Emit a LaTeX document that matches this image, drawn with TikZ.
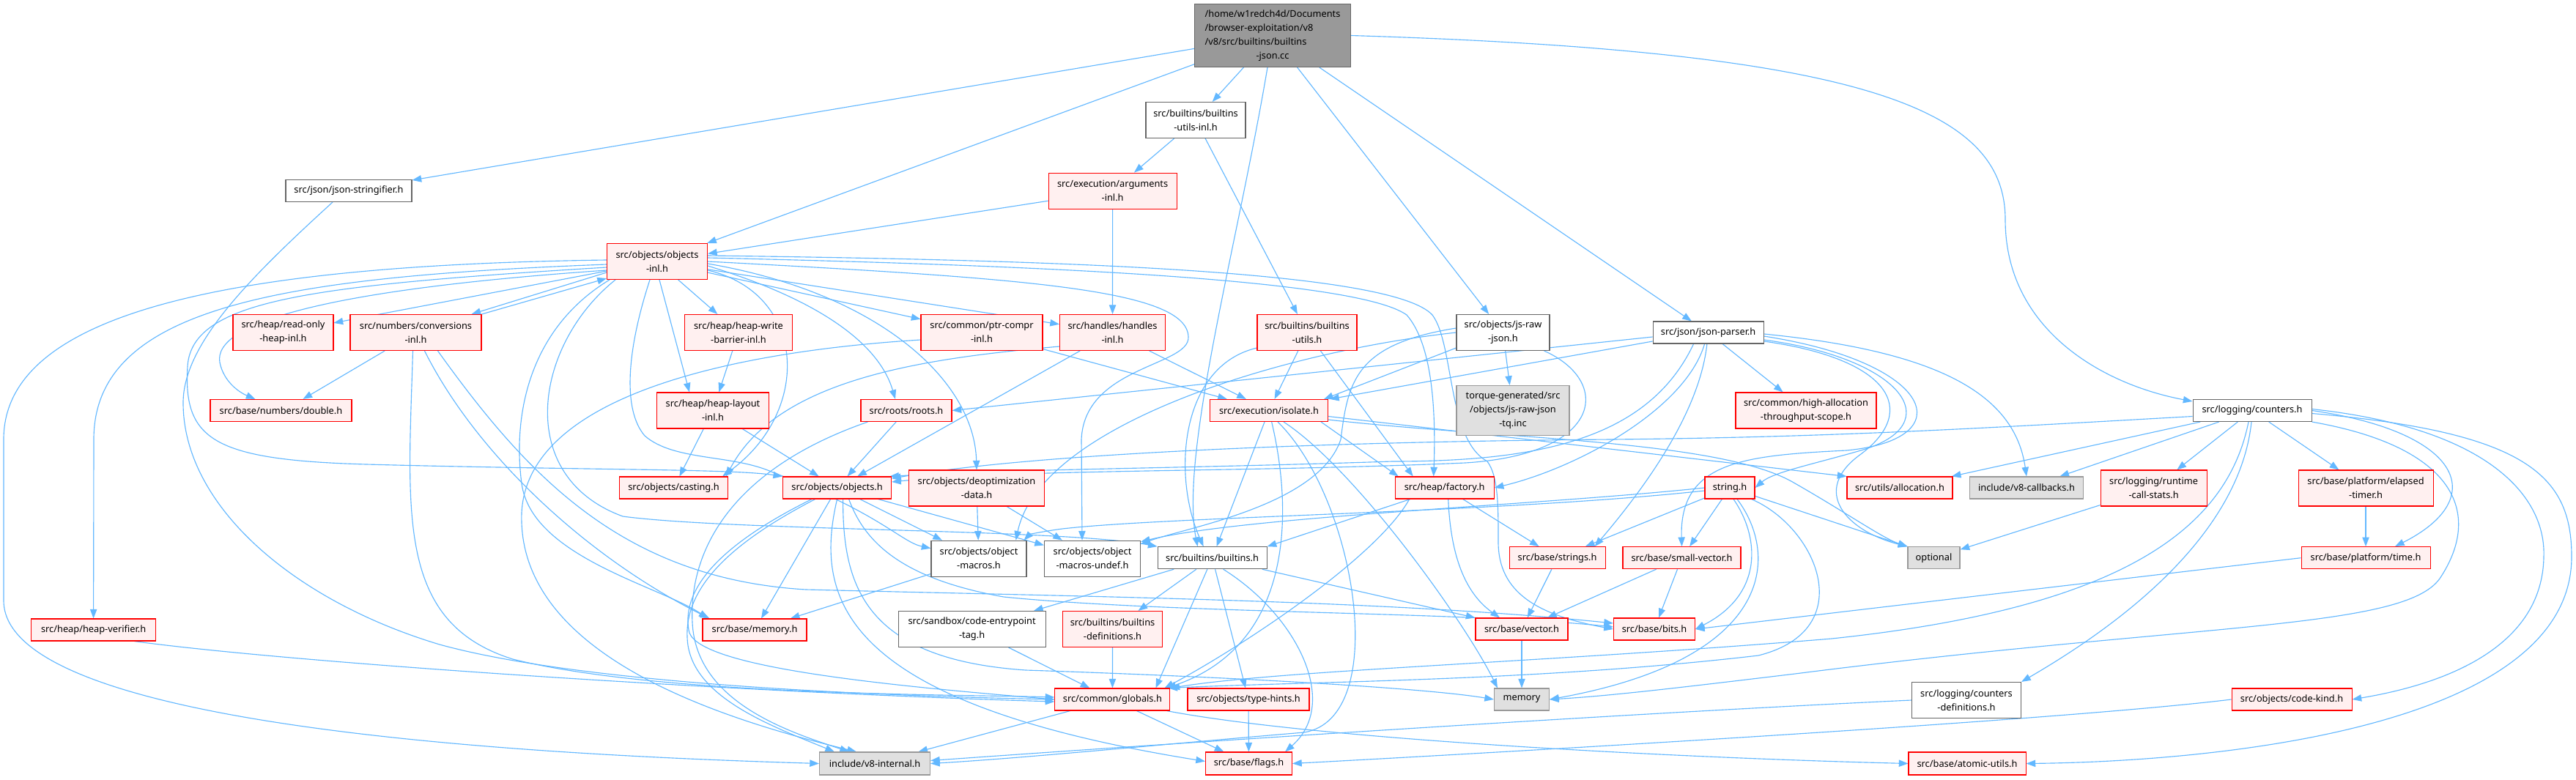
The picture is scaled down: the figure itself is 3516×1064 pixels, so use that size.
\documentclass[tikz,border=0pt]{standalone}
\usepackage{fontspec}
\setmainfont{Noto Sans}
\usetikzlibrary{arrows.meta,calc}
\pgfdeclarelayer{back}
\pgfdeclarelayer{bg}
\pgfsetlayers{back,bg,main}
\definecolor{edgec}{HTML}{63B8FF}
\definecolor{redfill}{HTML}{FFF0F0}
\definecolor{redline}{HTML}{FF0000}
\definecolor{grayfill}{HTML}{E0E0E0}
\definecolor{grayline}{HTML}{999999}
\definecolor{darkline}{HTML}{666666}
\definecolor{rootfill}{HTML}{999999}
\tikzset{
  bx/.style={rectangle, inner sep=0pt, align=center, line width=0.8pt, font=\fontsize{9.6}{14.25}\selectfont},
  rbox/.style={bx, draw=redline, fill=redfill},
  wbox/.style={bx, draw=darkline, fill=white},
  gbox/.style={bx, draw=grayline, fill=grayfill},
  rootbox/.style={bx, draw=darkline, fill=rootfill},
  e/.style={draw=edgec, line width=0.85pt, -{Triangle[length=9.5pt,width=7pt]}},
}
\newcommand\mynode[6]{\node[#1, minimum width={#4*0.75pt}, minimum height={#5*0.75pt}] (#2) at (#3) {#6};}
\begin{document}
\begin{tikzpicture}[x=0.75pt,y=-0.75pt]
\begin{pgfonlayer}{back}
\fill[white] (0,0) rectangle (3516,1064);
\end{pgfonlayer}
\useasboundingbox (0,0) rectangle (3516,1064);
% ---------------- nodes ----------------
\node[rootbox, minimum width={213*0.75pt}, minimum height={86*0.75pt}] (R) at (1737,48.5)
 {\begin{tabular}{@{}l@{}}/home/w1redch4d/Documents\\/browser-exploitation/v8\\/v8/src/builtins/builtins\\\multicolumn{1}{@{}c@{}}{-json.cc}\end{tabular}};
\mynode{wbox}{JS}{476,260.5}{172}{30}{src/json/json-stringifier.h}
\mynode{rbox}{OI}{897,357}{137}{49}{src/objects/objects\\-inl.h}
\mynode{wbox}{BUI}{1632,164}{136}{49}{src/builtins/builtins\\-utils-inl.h}
\mynode{rbox}{AI}{1518.6,260.6}{175}{49}{src/execution/arguments\\-inl.h}
\mynode{rbox}{ROH}{386.5,454}{137}{49}{src/heap/read-only\\-heap-inl.h}
\mynode{rbox}{NC}{567.5,454}{179}{49}{src/numbers/conversions\\-inl.h}
\mynode{rbox}{HWB}{1008,454}{147}{49}{src/heap/heap-write\\-barrier-inl.h}
\mynode{rbox}{PC}{1340,454}{166}{49}{src/common/ptr-compr\\-inl.h}
\mynode{rbox}{HI}{1518.5,454}{144}{49}{src/handles/handles\\-inl.h}
\mynode{rbox}{BU}{1784,454}{136}{49}{src/builtins/builtins\\-utils.h}
\mynode{wbox}{JRJ}{2051.5,454}{127}{49}{src/objects/js-raw\\-json.h}
\mynode{wbox}{JP}{2331.6,454}{151}{30}{src/json/json-parser.h}
\mynode{rbox}{DBL}{383.5,560.5}{193}{30}{src/base/numbers/double.h}
\mynode{rbox}{HL}{973,560.5}{153}{49}{src/heap/heap-layout\\-inl.h}
\mynode{rbox}{RR}{1237,560.5}{124}{30}{src/roots/roots.h}
\mynode{rbox}{ISO}{1732,560.5}{161}{30}{src/execution/isolate.h}
\mynode{gbox}{TQ}{2065,560.5}{154}{68}{torque-generated/src\\/objects/js-raw-json\\-tq.inc}
\mynode{rbox}{HAT}{2465,560.5}{192}{49}{src/common/high-allocation\\-throughput-scope.h}
\mynode{wbox}{CNT}{3074,560.5}{162}{30}{src/logging/counters.h}
\mynode{rbox}{CAS}{919.5,666}{148}{30}{src/objects/casting.h}
\mynode{rbox}{OBJ}{1142.6,666}{148}{30}{src/objects/objects.h}
\mynode{rbox}{DD}{1333,666.5}{185}{49}{src/objects/deoptimization\\-data.h}
\mynode{rbox}{FAC}{1971.7,666}{135}{30}{src/heap/factory.h}
\mynode{rbox}{STR}{2361,666}{68}{30}{string.h}
\mynode{rbox}{ALLOC}{2593,666}{144}{30}{src/utils/allocation.h}
\mynode{gbox}{CB}{2766,666}{155}{30}{include/v8-callbacks.h}
\mynode{rbox}{RCS}{2939.6,666.5}{145}{49}{src/logging/runtime\\-call-stats.h}
\mynode{rbox}{ET}{3229,666.5}{184}{49}{src/base/platform/elapsed\\-timer.h}
\mynode{wbox}{OM}{1336,762.7}{130}{49}{src/objects/object\\-macros.h}
\mynode{wbox}{OMU}{1491,762.7}{131}{49}{src/objects/object\\-macros-undef.h}
\mynode{wbox}{BH}{1654.6,761.7}{149}{30}{src/builtins/builtins.h}
\mynode{rbox}{STRS}{2125.6,761.7}{131}{30}{src/base/strings.h}
\mynode{rbox}{SV}{2295.5,761.7}{161}{30}{src/base/small-vector.h}
\mynode{gbox}{OPT}{2639.5,761.7}{71}{30}{optional}
\mynode{rbox}{PT}{3229,761.7}{176}{30}{src/base/platform/time.h}
\mynode{rbox}{HV}{127.6,860}{170}{30}{src/heap/heap-verifier.h}
\mynode{rbox}{MEMH}{1030,860}{142}{30}{src/base/memory.h}
\mynode{wbox}{CET}{1326.6,859}{201}{49}{src/sandbox/code-entrypoint\\-tag.h}
\mynode{rbox}{BD}{1518.5,859}{136}{49}{src/builtins/builtins\\-definitions.h}
\mynode{rbox}{VEC}{2077,859}{126}{30}{src/base/vector.h}
\mynode{rbox}{BITS}{2258,859}{111}{30}{src/base/bits.h}
\mynode{rbox}{GLB}{1518.4,955}{157}{30}{src/common/globals.h}
\mynode{rbox}{TH}{1704,955}{166}{30}{src/objects/type-hints.h}
\mynode{gbox}{MEM}{2077,955}{75}{30}{memory}
\mynode{wbox}{CD}{2684,956}{149}{49}{src/logging/counters\\-definitions.h}
\mynode{rbox}{CK}{3128,955}{164}{30}{src/objects/code-kind.h}
\mynode{gbox}{V8I}{1194,1042.5}{151}{31}{include/v8-internal.h}
\mynode{rbox}{FLG}{1704.5,1042.5}{118}{31}{src/base/flags.h}
\mynode{rbox}{AU}{2685,1042.5}{160}{31}{src/base/atomic-utils.h}
% ---------------- edges ----------------
\begin{pgfonlayer}{bg}
% root
\draw[e] (R) -- (JS);
\draw[e] (R) -- (OI);
\draw[e] (R) -- (BUI);
\draw[e] ($(R.south)+(-7,0)$) .. controls (1690,330) and (1610,620) .. ($(BH.north)+(-20,0)$);
\draw[e] (R) -- (JRJ);
\draw[e] (R) -- (JP);
\draw[e] (R.east) .. controls (2550,70) and (2737,150) .. (2737,300) .. controls (2737,450) and (2870,525) .. ($(CNT.north west)+(0,3)$);
% json-stringifier
\draw[e] ($(JS.south)+(-22,0)$) .. controls (340,380) and (250,470) .. (250,550) .. controls (250,690) and (400,820) .. (600,880) .. controls (800,935) and (1200,950) .. (GLB.west);
% builtins-utils-inl, arguments-inl
\draw[e] (BUI) -- (AI);
\draw[e] (BUI) -- (BU);
\draw[e] (AI) -- (OI);
\draw[e] (AI) -- (HI);
% objects-inl
\draw[e] (OI) -- (ROH);
\draw[e] ($(OI.south west)+(0,-10)$) -- ($(NC.north east)+(-14,0)$);
\draw[e] (NC.north east) -- ($(OI.south west)+(0,-2)$);
\draw[e] ($(OI.west)+(0,12)$) .. controls (450,395) and (290,440) .. (300,495) .. controls (305,520) and (325,535) .. ($(DBL.north)+(-35,0)$);
\draw[e] ($(OI.west)+(0,4)$) .. controls (380,378) and (128,420) .. (128,600) -- (HV.north);
\draw[e] ($(OI.west)+(0,-2)$) .. controls (300,362) and (5,430) .. (5,600) -- (5,820) .. controls (5,990) and (700,1030) .. (V8I.west);
\draw[e] ($(OI.west)+(0,8)$) .. controls (420,390) and (262,410) .. (256,500) .. controls (250,600) and (290,628) .. (500,634) .. controls (800,642) and (1000,640) .. (OBJ.north west);
\draw[e] (OI) -- (HWB);
\draw[e] ($(OI.south)+(3,0)$) -- ($(HL.north west)+(45,0)$);
\draw[e] ($(OI.east)+(0,12)$) .. controls (1100,400) and (1110,560) .. ($(CAS.north east)+(-8,0)$);
\draw[e] ($(OI.south)+(-10,0)$) .. controls (855,480) and (850,560) .. (880,595) .. controls (920,630) and (1000,620) .. (1055,645) .. controls (1200,700) and (1230,740) .. ($(OM.west)+(0,-14)$);
\draw[e] ($(OI.south west)+(4,0)$) .. controls (720,450) and (700,570) .. (712,660) .. controls (725,760) and (900,800) .. ($(MEMH.north west)+(8,0)$);
\draw[e] (OI) -- (PC);
\draw[e] (OI) -- (HI);
\draw[e] ($(OI.east)+(0,6)$) .. controls (1120,410) and (1200,470) .. ($(RR.north)+(-15,0)$);
\draw[e] ($(OI.east)+(0,3)$) .. controls (1200,400) and (1330,520) .. (DD.north);
\draw[e] (OI.east) .. controls (1400,380) and (1620,395) .. (1622,460) .. controls (1624,500) and (1480,500) .. (1476,600) -- ($(OMU.north)+(-14,0)$);
\draw[e] ($(OI.east)+(0,-5)$) .. controls (1400,362) and (1850,380) .. (1920,430) .. controls (1955,470) and (1960,560) .. ($(FAC.north)+(-15,0)$);
\draw[e] ($(OI.east)+(0,-8)$) .. controls (1450,355) and (1900,370) .. (1955,430) .. controls (1985,470) and (1975,600) .. (2030,630) .. controls (2045,650) and (2045,690) .. (2045,740) .. controls (2045,810) and (2100,840) .. (BITS.west);
\draw[e] ($(OI.south west)+(12,0)$) .. controls (730,470) and (700,650) .. (850,705) .. controls (1000,725) and (1450,722) .. (BH.north west);
% conversions-inl
\draw[e] (NC) -- ($(DBL.north)+(30,0)$);
\draw[e] ($(NC.south)+(-4,0)$) .. controls (557,700) and (540,850) .. (700,900) .. controls (900,950) and (1300,948) .. ($(GLB.west)+(0,-3)$);
\draw[e] ($(NC.south)+(12,0)$) .. controls (650,620) and (800,760) .. ($(MEMH.north west)+(10,0)$);
\draw[e] ($(NC.south)+(30,0)$) .. controls (720,650) and (850,790) .. (1100,805) .. controls (1500,815) and (1900,820) .. ($(BITS.west)+(0,-8)$);
% heap
\draw[e] (HWB) -- (HL);
\draw[e] (HL) -- (CAS);
\draw[e] (HL) -- (OBJ);
% ptr-compr, handles
\draw[e] (PC) -- (ISO);
\draw[e] ($(PC.west)+(0,10)$) .. controls (1000,480) and (720,540) .. (712,700) .. controls (705,900) and (1000,985) .. ($(V8I.north)+(-25,0)$);
\draw[e] (HI) -- (ISO);
\draw[e] (HI) -- (OBJ);
\draw[e] ($(HI.south west)+(0,-6)$) .. controls (1250,490) and (1060,520) .. ($(CAS.north east)+(-3,0)$);
% builtins-utils
\draw[e] (BU) -- (ISO);
\draw[e] ($(BU.south west)+(0,-4)$) .. controls (1610,500) and (1600,650) .. ($(BH.north)+(-12,0)$);
\draw[e] (BU) -- ($(FAC.north west)+(25,0)$);
% js-raw-json
\draw[e] (JRJ) -- (TQ);
\draw[e] ($(JRJ.south west)+(0,-4)$) -- ($(ISO.north east)+(-6,0)$);
\draw[e] (JRJ.west) .. controls (1750,480) and (1420,580) .. ($(OM.north east)+(-15,0)$);
\draw[e] ($(JRJ.west)+(0,-6)$) .. controls (1850,470) and (1840,520) .. (1830,600) .. controls (1800,690) and (1620,720) .. ($(OMU.north east)+(0,5)$);
\draw[e] ($(JRJ.south east)+(-8,0)$) .. controls (2200,520) and (2190,620) .. (2000,632) .. controls (1700,645) and (1400,640) .. ($(OBJ.east)+(0,-8)$);
% json-parser
\draw[e] ($(JP.west)+(0,6)$) -- (RR.east);
\draw[e] ($(JP.west)+(0,12)$) -- ($(ISO.north east)+(2,0)$);
\draw[e] ($(JP.south)+(-5,0)$) .. controls (2300,560) and (2150,640) .. (FAC.east);
\draw[e] ($(JP.south)+(-20,0)$) .. controls (2250,600) and (2100,630) .. (1900,630) .. controls (1600,640) and (1400,640) .. ($(OBJ.north east)+(-3,0)$);
\draw[e] (JP) .. controls (2320,560) and (2250,660) .. ($(STRS.north east)+(-15,0)$);
\draw[e] (JP) -- (HAT);
\draw[e] ($(JP.east)+(0,10)$) .. controls (2600,490) and (2660,580) .. (2540,615) .. controls (2470,635) and (2420,645) .. (STR.east);
\draw[e] ($(JP.east)+(0,5)$) .. controls (2640,495) and (2680,600) .. (2520,615) .. controls (2380,622) and (2292,630) .. (SV.north);
\draw[e] ($(JP.east)+(0,12)$) .. controls (2580,490) and (2620,560) .. (2540,620) .. controls (2470,670) and (2520,725) .. (OPT.north west);
\draw[e] ($(JP.east)+(0,2)$) .. controls (2650,480) and (2750,540) .. (CB.north);
% roots
\draw[e] (RR) -- (OBJ);
\draw[e] ($(RR.south west)+(10,0)$) .. controls (1000,640) and (940,750) .. (945,850) .. controls (950,960) and (1080,1000) .. ($(V8I.north)+(-35,0)$);
% isolate
\draw[e] (ISO) -- (BH);
\draw[e] (ISO) .. controls (1765,700) and (1765,880) .. ($(GLB.north east)+(-5,0)$);
\draw[e] ($(ISO.south)+(12,0)$) .. controls (1850,680) and (1900,980) .. (1780,1000) .. controls (1600,1015) and (1400,1035) .. (V8I.east);
\draw[e] ($(ISO.south)+(20,0)$) .. controls (1850,640) and (2000,850) .. ($(MEM.north west)+(5,0)$);
\draw[e] ($(ISO.south east)+(-10,0)$) -- ($(FAC.north west)+(5,0)$);
\draw[e] ($(ISO.east)+(0,8)$) -- (ALLOC.north west);
\draw[e] ($(ISO.south east)+(0,-3)$) .. controls (2050,600) and (2350,600) .. (2450,660) .. controls (2520,700) and (2570,735) .. (OPT.north west);
% deoptimization-data
\draw[e] (DD) -- (OM);
\draw[e] (DD) -- (OMU);
% objects.h
\draw[e] (OBJ) -- (OM);
\draw[e] (OBJ) -- (OMU);
\draw[e] (OBJ) -- (MEMH);
\draw[e] ($(OBJ.south)+(-30,0)$) .. controls (1000,740) and (935,800) .. (938,870) .. controls (940,950) and (1050,990) .. ($(V8I.north)+(-55,0)$);
\draw[e] (OBJ.south) .. controls (1110,820) and (1150,960) .. ($(FLG.west)+(0,-3)$);
\draw[e] ($(OBJ.south west)+(40,0)$) .. controls (990,740) and (930,800) .. (940,860) .. controls (945,910) and (1200,935) .. (GLB.west);
\draw[e] ($(OBJ.south)+(8,0)$) .. controls (1150,800) and (1180,900) .. (1400,915) .. controls (1700,925) and (1950,940) .. (MEM.west);
\draw[e] ($(OBJ.south)+(16,0)$) .. controls (1180,740) and (1230,790) .. (1370,815) .. controls (1600,838) and (2000,835) .. ($(BITS.west)+(0,-3)$);
% counters
\draw[e] (CNT) -- (ALLOC);
\draw[e] (CNT) -- (CB);
\draw[e] (CNT) -- (RCS);
\draw[e] (CNT) -- (ET);
\draw[e] (CNT.east) .. controls (3360,590) and (3400,680) .. ($(PT.north)+(40,0)$);
\draw[e] ($(CNT.south)+(-1,0)$) .. controls (3060,700) and (2950,820) .. (CD.north east);
\draw[e] ($(CNT.south)+(-5,0)$) .. controls (3040,720) and (2900,830) .. (2500,872) .. controls (2100,905) and (1750,915) .. (GLB.north east);
\draw[e] (CNT.south east) .. controls (3350,610) and (3390,700) .. (3330,790) .. controls (3280,860) and (3000,850) .. (2450,920) .. controls (2300,938) and (2200,950) .. (MEM.east);
\draw[e] ($(CNT.east)+(0,4)$) .. controls (3450,590) and (3510,650) .. (3510,760) .. controls (3510,1000) and (3000,1040) .. (AU.east);
\draw[e] ($(CNT.east)+(0,-2)$) .. controls (3400,585) and (3475,680) .. (3472,760) .. controls (3470,900) and (3300,940) .. (CK.east);
\draw[e] ($(CNT.west)+(0,8)$) .. controls (2700,585) and (2500,597) .. (2200,600) .. controls (1800,603) and (1400,620) .. ($(OBJ.north east)+(0,3)$);
% lower right
\draw[e] (CD.west) .. controls (2200,975) and (1600,1015) .. ($(V8I.east)+(0,-4)$);
\draw[e] (CK.west) .. controls (2800,985) and (2000,1030) .. (FLG.east);
\draw[e] ($(GLB.south east)+(-5,0)$) .. controls (1800,1010) and (2300,1035) .. (AU.west);
\draw[e] (GLB) -- (V8I);
\draw[e] (GLB) -- (FLG);
\draw[e] (TH) -- (FLG);
% builtins.h
\draw[e] (BH) -- (CET);
\draw[e] (BH) -- (BD);
\draw[e] (BH) -- ($(GLB.north east)+(-20,0)$);
\draw[e] (BH) -- (TH);
\draw[e] ($(BH.south)+(15,0)$) .. controls (1770,840) and (1830,960) .. ($(FLG.north east)+(-10,0)$);
\draw[e] (BH) -- (VEC.north west);
\draw[e] (CET) -- (GLB);
\draw[e] (BD) -- (GLB);
\draw[e] (OM) -- (MEMH);
% factory
\draw[e] (FAC) -- (BH.north east);
\draw[e] (FAC) -- (STRS);
\draw[e] ($(FAC.south)+(5,0)$) .. controls (1980,760) and (2000,810) .. ($(VEC.north)+(-30,0)$);
\draw[e] ($(FAC.south west)+(20,0)$) .. controls (1880,760) and (1700,880) .. ($(GLB.north east)+(-8,0)$);
% string.h
\draw[e] (STR) -- (STRS);
\draw[e] (STR) -- (SV);
\draw[e] ($(STR.south)+(5,0)$) .. controls (2400,730) and (2410,810) .. (BITS.east);
\draw[e] ($(STR.south)+(10,0)$) .. controls (2430,760) and (2420,900) .. (MEM.east);
\draw[e] (STR) -- (OPT.north west);
\draw[e] ($(STR.south east)+(-5,0)$) .. controls (2480,720) and (2540,860) .. (2400,895) .. controls (2100,930) and (1800,930) .. ($(GLB.north east)+(-3,0)$);
\draw[e] (STR.west) .. controls (2100,690) and (1700,705) .. ($(OMU.north east)+(0,2)$);
\draw[e] ($(STR.west)+(0,4)$) .. controls (2050,700) and (1600,705) .. (1450,722) .. controls (1420,726) and (1405,730) .. ($(OM.north east)+(-4,0)$);
% misc
\draw[e] (RCS) -- (OPT);
\draw[e] (ET) -- (PT);
\draw[e] (PT.west) -- (BITS.east);
\draw[e] (STRS) -- (VEC);
\draw[e] (SV) -- (VEC);
\draw[e] (SV) -- (BITS);
\draw[e] (VEC) -- (MEM);
\draw[e] ($(HV.south east)+(-30,0)$) .. controls (400,905) and (1000,945) .. ($(GLB.west)+(0,3)$);
\end{pgfonlayer}
\end{tikzpicture}
\end{document}
